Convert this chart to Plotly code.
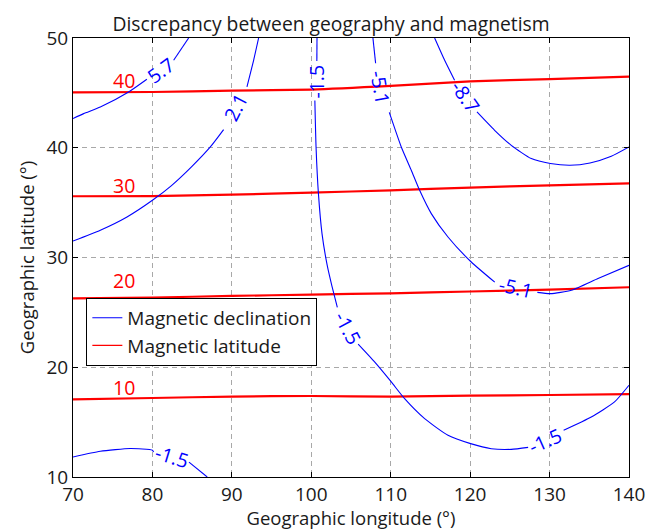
import plotly.graph_objects as go

# ---------------- data ----------------
lon_grid = [70, 80, 90, 100, 110, 120, 130, 140]
mlat_levels = ["10", "20", "30", "40"]
mlat_10 = [17.08, 17.20, 17.33, 17.38, 17.33, 17.42, 17.47, 17.56]
mlat_20 = [26.28, 26.35, 26.50, 26.62, 26.74, 26.90, 27.08, 27.29]
mlat_30 = [35.58, 35.60, 35.73, 35.91, 36.12, 36.37, 36.58, 36.76]
mlat_40 = [45.05, 45.08, 45.20, 45.30, 45.63, 46.05, 46.26, 46.48]
mlat_label_lon = [76.4, 76.4, 76.4, 76.4]
mlat_label_lat = [18.17, 27.86, 36.58, 46.15]

# magnetic declination contours (None = break where the label sits)
dec_57_lon = [70, 71.34, 73.44, 77.0, 79.3, None, 82.67, 84.56]
dec_57_lat = [42.66, 43.11, 43.71, 45.08, 46.24, None, 47.97, 50]

dec_21_lon = [70, 73.44, 76.8, 80.0, 82.4, 84.98, 87.29, 88.96, None, 91.9, 92.74, 93.37]
dec_21_lat = [31.5, 32.48, 33.69, 35.21, 36.55, 38.3, 40.07, 41.65, None, 45.54, 47.97, 50]

dec_m15_lon = [100.72, 100.7, None, 100.45, 100.6, 100.9, 101.35, 102.0, 102.6, 103.28, None,
               105.9, 107.97, 110.07, 111.75, 114.27, 117.21, 120.06, 122.66, 125.18, 127.3, None,
               131.77, 135.25, 138.18, 140]
dec_m15_lat = [50, 47.9, None, 44.3, 40.07, 35.82, 32.18, 29.3, 27.4, 25.46, None,
               22.1, 20.48, 18.66, 17.14, 15.32, 13.8, 13.04, 12.58, 12.52, 12.7, None,
               14.26, 15.47, 16.84, 18.36]

dec_m15b_lon = [70, 73.44, 77.2, 80.0, 80.15, None, 84.6, 86.9]
dec_m15b_lat = [11.82, 12.34, 12.59, 12.44, 12.28, None, 11.35, 10.0]

dec_m51_lon = [107.76, 108.1, None, 109.82, 111.33, 112.59, 113.64, 115.11, 117.21, 120.14, 123.1, None,
               128.46, 130.1, 132.74, 136.1, 140]
dec_m51_lat = [50, 47.7, None, 43.22, 40.07, 37.95, 36.12, 34.0, 31.87, 29.59, 27.75, None,
               26.82, 26.71, 27.01, 28.08, 29.29]

dec_m87_lon = [115.53, 116.79, 118.04, None, 120.86, 123.08, 125.18, 127.7, 130.1, 132.57, 135.09, 137.77, 140]
dec_m87_lat = [50, 47.97, 46.15, None, 43.26, 41.59, 40.22, 39.01, 38.56, 38.4, 38.61, 39.22, 40.07]

dec_label_text = ["5.7", "2.1", "-1.5", "-1.5", "-1.5", "-1.5", "-5.1", "-5.1", "-8.7"]
dec_label_lon = [81.0, 90.44, 100.68, 104.67, 129.46, 82.44, 108.68, 125.8, 119.45]
dec_label_lat = [47.06, 43.68, 46.0, 23.55, 13.35, 11.83, 45.46, 27.3, 44.69]
dec_label_angle = [-36, -63, -90, 62, -24, 17, 80, 13, 55]

x_ticks = [70, 80, 90, 100, 110, 120, 130, 140]
y_ticks = [10, 20, 30, 40, 50]

# ---------------- figure ----------------
FONT = "Open Sans"
BLUE = "rgb(0,0,255)"
RED = "rgb(255,0,0)"
TXT = "#1a1a1a"
FS = 19.5

fig = go.Figure()

for ys in [mlat_10, mlat_20, mlat_30, mlat_40]:
    fig.add_trace(go.Scatter(x=lon_grid, y=ys, mode="lines", showlegend=False,
                             line=dict(color=RED, width=2.2, shape="spline", smoothing=0.6),
                             hoverinfo="skip"))

for xs, ys in [(dec_57_lon, dec_57_lat), (dec_21_lon, dec_21_lat), (dec_m15_lon, dec_m15_lat),
               (dec_m15b_lon, dec_m15b_lat), (dec_m51_lon, dec_m51_lat), (dec_m87_lon, dec_m87_lat)]:
    fig.add_trace(go.Scatter(x=xs, y=ys, mode="lines", showlegend=False, connectgaps=False,
                             line=dict(color=BLUE, width=1.1, shape="spline", smoothing=0.55),
                             hoverinfo="skip"))

# legend entries
fig.add_trace(go.Scatter(x=[None], y=[None], mode="lines", name="Magnetic declination",
                         line=dict(color=BLUE, width=1.2)))
fig.add_trace(go.Scatter(x=[None], y=[None], mode="lines", name="Magnetic latitude",
                         line=dict(color=RED, width=1.2)))

for t, x, y in zip(mlat_levels, mlat_label_lon, mlat_label_lat):
    fig.add_annotation(x=x, y=y, xref="x", yref="y", text=t, showarrow=False,
                       font=dict(family=FONT, size=FS, color=RED))

for t, x, y, a in zip(dec_label_text, dec_label_lon, dec_label_lat, dec_label_angle):
    fig.add_annotation(x=x, y=y, xref="x", yref="y", text=t, showarrow=False, textangle=a,
                       font=dict(family=FONT, size=FS, color=BLUE))

axis_common = dict(showline=True, linecolor="black", linewidth=1, mirror="ticks",
                   ticks="inside", ticklen=5, tickcolor="black", automargin=False,
                   showgrid=True, gridcolor="#a8a8a8", griddash="5px,4px", gridwidth=1,
                   zeroline=False, tickfont=dict(family=FONT, size=19, color=TXT))

fig.update_xaxes(range=[70, 140], tickvals=x_ticks, **axis_common,
                 title=dict(text="Geographic longitude (°)", font=dict(family=FONT, size=18.5, color=TXT),
                            standoff=7))
fig.update_yaxes(range=[10, 50], tickvals=y_ticks, **axis_common,
                 title=dict(text="Geographic latitude (°)", font=dict(family=FONT, size=18.5, color=TXT),
                            standoff=6))

fig.update_layout(
    width=662, height=530,
    margin=dict(l=73, r=33, t=38, b=53, autoexpand=False),
    paper_bgcolor="white", plot_bgcolor="white",
    title=dict(text="Discrepancy between geography and magnetism", x=0.5, xref="container",
               xanchor="center", y=1 - 24 / 530, yref="container", yanchor="middle",
               font=dict(family=FONT, size=19.3, color=TXT)),
    legend=dict(x=0.024, y=0.408, xanchor="left", yanchor="top", bgcolor="white",
                bordercolor="black", borderwidth=1, font=dict(family=FONT, size=19, color=TXT),
                tracegroupgap=0, itemwidth=30),
    showlegend=True,
)

fig.write_html("out.html")
